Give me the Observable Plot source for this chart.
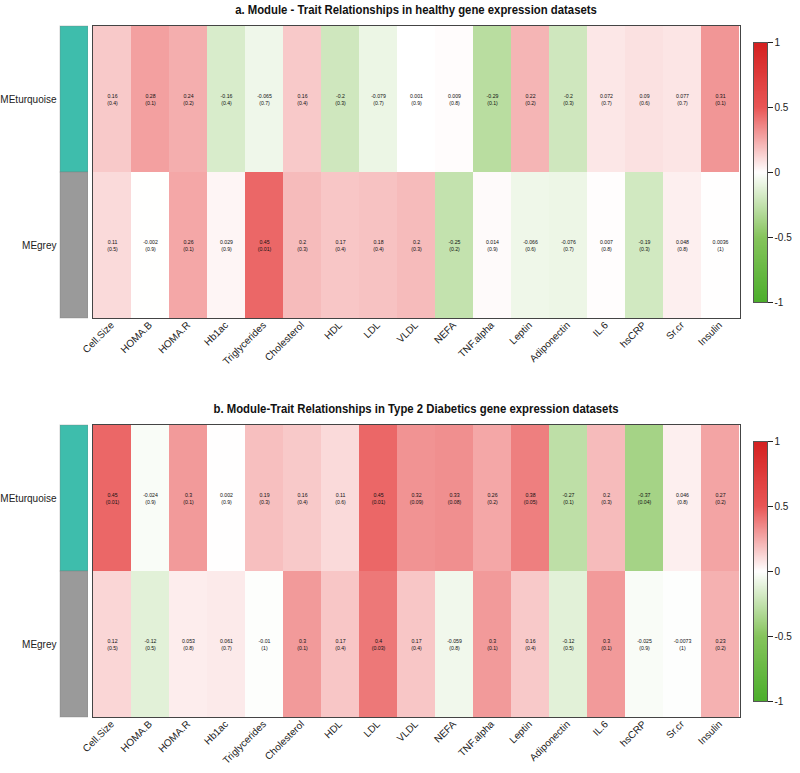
<!DOCTYPE html>
<html>
<head>
<meta charset="utf-8">
<script src="https://cdn.jsdelivr.net/npm/d3@7"></script>
<script src="https://cdn.jsdelivr.net/npm/@observablehq/plot@0.6"></script>
<style>
  html, body { margin: 0; padding: 0; background: #fff; }
  #root { position: relative; width: 800px; height: 773px; overflow: hidden; font-family: "Liberation Sans", Arial, sans-serif; }
  .panel { position: absolute; left: 0; width: 800px; height: 373px; }
  .panel > * { position: absolute; }
  .title { top: 2px; left: 92px; width: 648px; text-align: center; font-family: "Liberation Sans Narrow", "Arial Narrow", "Liberation Sans", sans-serif; font-weight: bold; font-size: 13.5px; color: #111; transform: scaleX(0.84); transform-origin: center; }
</style>
</head>
<body>
<div id="root"></div>
<script>
const traits = ["Cell.Size","HOMA.B","HOMA.R","Hb1ac","Triglycerides","Cholesterol","HDL","LDL","VLDL","NEFA","TNF.alpha","Leptin","Adiponectin","IL.6","hsCRP","Sr.cr","Insulin"];
const modules = ["MEturquoise","MEgrey"];
const moduleColors = ["#3ebdac","#9a9a9a"];

const titleA = "a. Module - Trait Relationships in healthy gene expression datasets";
const titleB = "b. Module-Trait Relationships in Type 2 Diabetics gene expression datasets";

// Panel a (healthy)
const aTurqR = [0.16, 0.28, 0.24, -0.16, -0.065, 0.16, -0.2, -0.079, 0.001, 0.009, -0.29, 0.22, -0.2, 0.072, 0.09, 0.077, 0.31];
const aTurqP = [0.4, 0.1, 0.2, 0.4, 0.7, 0.4, 0.3, 0.7, 0.9, 0.8, 0.1, 0.2, 0.3, 0.7, 0.6, 0.7, 0.1];
const aGreyR = [0.11, -0.002, 0.26, 0.029, 0.45, 0.2, 0.17, 0.18, 0.2, -0.25, 0.014, -0.066, -0.076, 0.007, -0.19, 0.048, 0.0036];
const aGreyP = [0.5, 0.9, 0.1, 0.9, 0.01, 0.3, 0.4, 0.4, 0.3, 0.2, 0.9, 0.6, 0.7, 0.8, 0.3, 0.8, 1];

// Panel b (Type 2 diabetics)
const bTurqR = [0.45, -0.024, 0.3, 0.002, 0.19, 0.16, 0.11, 0.45, 0.32, 0.33, 0.26, 0.38, -0.27, 0.2, -0.37, 0.046, 0.27];
const bTurqP = [0.01, 0.9, 0.1, 0.9, 0.3, 0.4, 0.6, 0.01, 0.09, 0.08, 0.2, 0.05, 0.1, 0.3, 0.04, 0.8, 0.2];
const bGreyR = [0.12, -0.12, 0.053, 0.061, -0.01, 0.3, 0.17, 0.4, 0.17, -0.059, 0.3, 0.16, -0.12, 0.3, -0.025, -0.0073, 0.23];
const bGreyP = [0.5, 0.5, 0.8, 0.7, 1, 0.1, 0.4, 0.03, 0.4, 0.8, 0.1, 0.4, 0.5, 0.1, 0.9, 1, 0.2];

const colorbarTicks = [-1, -0.5, 0, 0.5, 1];

const colorScale = {
  type: "linear",
  domain: [-1, -0.5, 0, 0.5, 1],
  range: ["#4cae2c", "#86c45c", "#ffffff", "#e95656", "#d42020"],
  clamp: true
};

const H = 373, MT = 25, MB = 55;
const fontStyle = { fontFamily: "Liberation Sans, Arial, sans-serif", fontSize: "10px", background: "transparent", color: "#222" };

function panel(top, title, rT, pT, rG, pG) {
  const div = document.createElement("div");
  div.className = "panel";
  div.style.top = top + "px";

  const data = [];
  traits.forEach((t, i) => {
    data.push({trait: t, module: modules[0], r: rT[i], p: pT[i]});
    data.push({trait: t, module: modules[1], r: rG[i], p: pG[i]});
  });

  const heat = Plot.plot({
    width: 800, height: H,
    marginLeft: 92, marginRight: 60, marginTop: MT, marginBottom: MB,
    style: fontStyle,
    x: {domain: traits, padding: 0, tickRotate: -45, tickSize: 0, tickPadding: 5, label: null},
    y: {domain: modules, padding: 0, axis: null},
    color: colorScale,
    marks: [
      Plot.cell(data, {x: "trait", y: "module", fill: "r", inset: 0}),
      Plot.text(data, {x: "trait", y: "module", text: d => `${d.r}\n(${d.p})`, fontSize: 5.2, lineHeight: 1.25, fill: "#111"}),
      Plot.frame({stroke: "#444"})
    ]
  });
  heat.style.left = "0px"; heat.style.top = "0px";

  const mods = modules.map((m, i) => ({module: m, col: moduleColors[i]}));
  const modPlot = Plot.plot({
    width: 88, height: H,
    marginLeft: 60, marginRight: 0, marginTop: MT, marginBottom: MB,
    style: fontStyle,
    x: {domain: ["m"], padding: 0, axis: null},
    y: {domain: modules, padding: 0, tickSize: 0, tickPadding: 4, label: null},
    marks: [
      Plot.cell(mods, {x: () => "m", y: "module", fill: "col", inset: 0, stroke: "#777", strokeOpacity: 0.35})
    ]
  });
  modPlot.style.left = "0px"; modPlot.style.top = "0px";

  const cb = Plot.plot({
    width: 60, height: H,
    marginLeft: 13, marginRight: 33, marginTop: 42, marginBottom: 71,
    style: fontStyle,
    x: {domain: [0, 1], axis: null},
    y: {domain: [-1, 1], axis: "right", ticks: colorbarTicks, tickSize: 5, tickPadding: 2, tickFormat: d => String(d), label: null},
    color: colorScale,
    marks: [
      Plot.raster({x1: 0, x2: 1, y1: -1, y2: 1, width: 1, height: 200, fill: (x, y) => y, imageRendering: "auto"}),
      Plot.frame({stroke: "#555"})
    ]
  });
  cb.style.left = "740px"; cb.style.top = "0px";

  const t = document.createElement("div");
  t.className = "title";
  t.textContent = title;

  div.appendChild(heat);
  div.appendChild(modPlot);
  div.appendChild(cb);
  div.appendChild(t);
  return div;
}

const root = document.getElementById("root");
root.appendChild(panel(0, titleA, aTurqR, aTurqP, aGreyR, aGreyP));
root.appendChild(panel(399, titleB, bTurqR, bTurqP, bGreyR, bGreyP));
</script>
</body>
</html>
